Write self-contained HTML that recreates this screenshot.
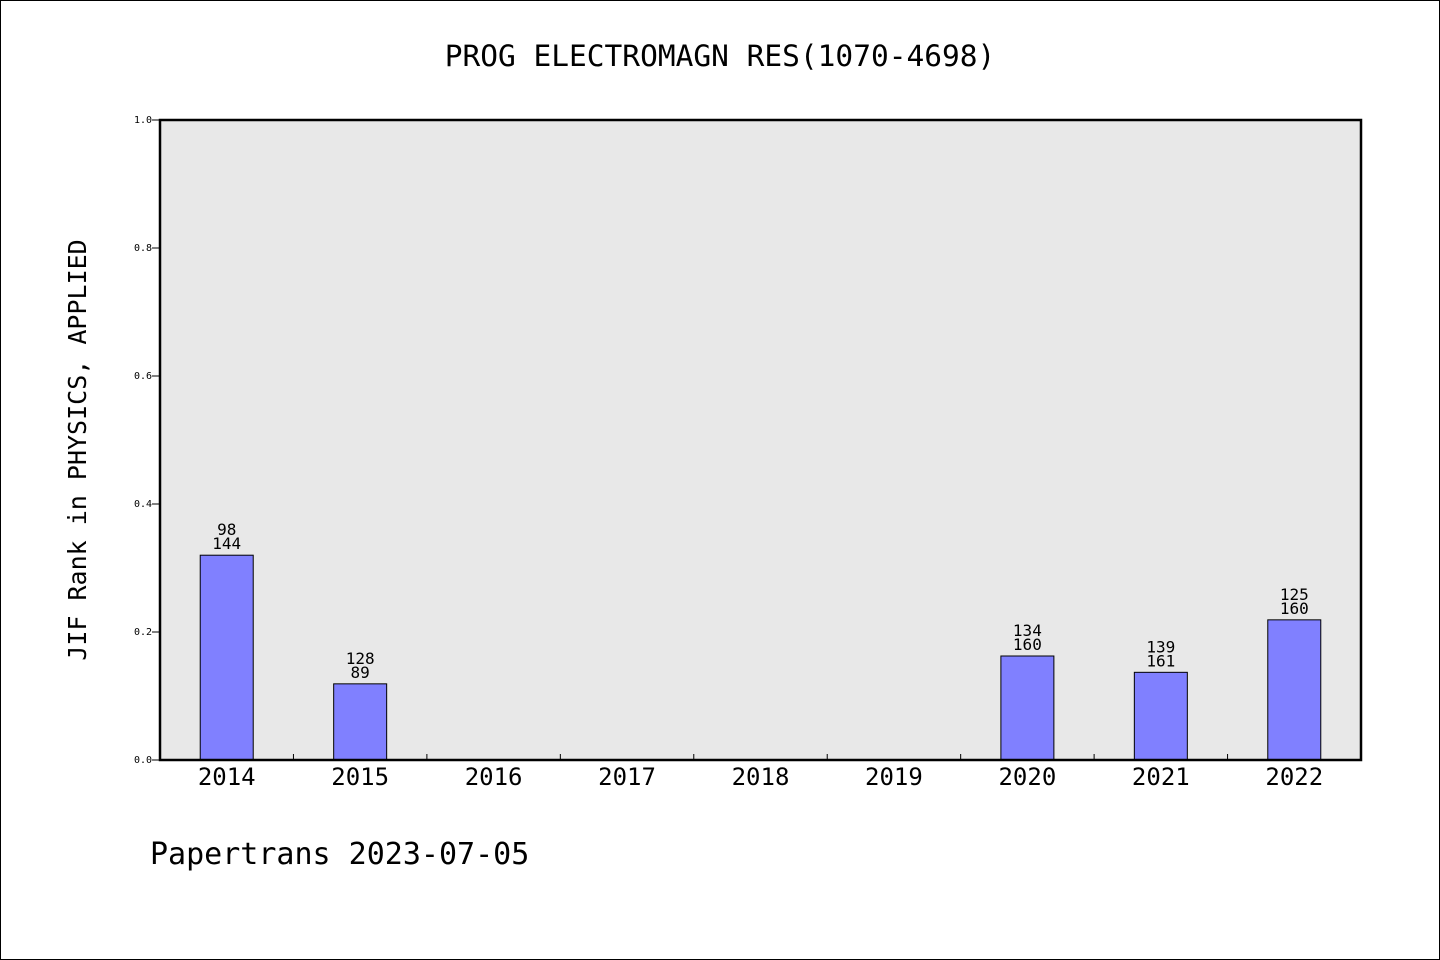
<!DOCTYPE html>
<html><head><meta charset="utf-8"><style>
body{margin:0;background:#fff}
svg{display:block;font-family:"WenQuanYi Zen Hei","DejaVu Sans Mono",monospace}
</style></head><body>
<svg width="1440" height="960">
<rect x="0.5" y="0.5" width="1439" height="959" fill="#fff" stroke="#000"/>
<text x="720" y="66" font-size="29.5" text-anchor="middle">PROG ELECTROMAGN RES(1070-4698)</text>
<rect x="160" y="120" width="1201" height="640" fill="#e8e8e8"/>
<g id="marks"></g>
<rect x="160" y="120" width="1201" height="640" fill="none" stroke="#000" stroke-width="2.5"/>
<text x="86" y="450" font-size="25" text-anchor="middle" transform="rotate(-90 86 450)">JIF Rank in PHYSICS, APPLIED</text>
<text x="150" y="864" font-size="30">Papertrans 2023-07-05</text>
</svg>
<script>
const categories=["2014","2015","2016","2017","2018","2019","2020","2021","2022"];
const values=[0.32,0.119,null,null,null,null,0.1625,0.137,0.219];
const topLabels=["98","128","","","","","134","139","125"];
const bottomLabels=["144","89","","","","","160","161","160"];
const yTicks=[0,0.2,0.4,0.6,0.8,1.0];
const X0=160,X1=1361,Y0=760,Y1=120;
const bw=(X1-X0)/categories.length;
const y=v=>Y0-(v)*(Y0-Y1);
const xc=i=>X0+bw*(i+0.5);
const g=document.getElementById('marks');
const NS="http://www.w3.org/2000/svg";
function mk(t,a){const e=document.createElementNS(NS,t);for(const k in a)e.setAttribute(k,a[k]);return e;}
const svg=document.querySelector('svg');
yTicks.forEach(v=>{
 const l=mk('line',{x1:X0-8,x2:X0,y1:y(v),y2:y(v),stroke:'#000'});
 
 
 svg.appendChild(l);
 const t=mk('text',{x:X0-8,y:y(v)+3,'font-size':10,'text-anchor':'end'});
 t.textContent=v.toFixed(1);
 
 
 svg.appendChild(t);
});
categories.forEach((c,i)=>{
 if(i>0){const l=mk('line',{x1:X0+bw*i,x2:X0+bw*i,y1:Y0-6,y2:Y0,stroke:'#000'});
 
 
 svg.appendChild(l);}
 const t=mk('text',{x:xc(i),y:785,'font-size':24,'text-anchor':'middle'});
 t.textContent=c;
 
 
 svg.appendChild(t);
 const v=values[i];
 if(v!=null){
  const r=mk('rect',{x:xc(i)-26.5,y:y(v),width:53,height:Y0-y(v),fill:'#8080ff',stroke:'#000'});
  
  
  g.appendChild(r);
  const t1=mk('text',{x:xc(i),y:y(v)-20,'font-size':16,'text-anchor':'middle'});
  t1.textContent=topLabels[i];
  
  
  g.appendChild(t1);
  const t2=mk('text',{x:xc(i),y:y(v)-6,'font-size':16,'text-anchor':'middle'});
  t2.textContent=bottomLabels[i];
  
  
  g.appendChild(t2);
 }
});
</script>
</body></html>
